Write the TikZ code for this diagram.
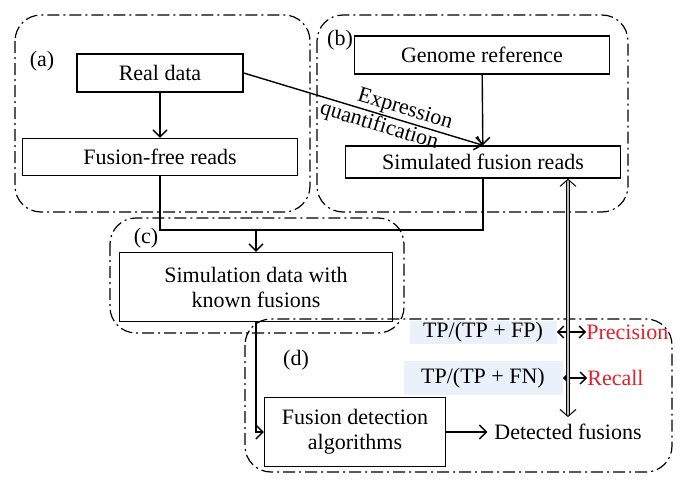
\documentclass[tikz,border=0pt]{standalone}
\usepackage{fontspec}
\setmainfont{Liberation Serif}
\usepackage{xcolor}
\usetikzlibrary{arrows.meta}

\definecolor{precred}{RGB}{228,32,40}
\definecolor{formbg}{RGB}{234,241,250}

\begin{document}
\begin{tikzpicture}[
    x=0.5pt, y=-0.5pt,
    font=\fontsize{11}{12.5}\selectfont,
    block/.style={draw, line width=0.7pt, inner sep=1pt, align=center},
    group/.style={draw, line width=0.6pt, rounded corners=13pt, dash pattern=on 6pt off 2pt on 1pt off 2pt},
    link/.style={line width=0.7pt},
    arr/.style={-{Straight Barb[length=3.5pt, width=7pt]}, line width=0.7pt},
    both/.style={{Straight Barb[length=3pt, width=6pt]}-{Straight Barb[length=3pt, width=6pt]}, line width=0.7pt},
    formula/.style={fill=formbg, inner sep=0pt},
]
\useasboundingbox (0,0) rectangle (686,487);

% dash-dot groups
\draw[group] (15,15) rectangle (310,212);
\draw[group] (317,15) rectangle (628,212);
\draw[group] (110,218) rectangle (404,333);
\draw[group] (245,319) rectangle (672,472);

\node (la) at (42,61) {(a)};
\node (lb) at (340,40) {(b)};
\node (lc) at (146,238) {(c)};
\node (ld) at (296,360) {(d)};

% (a) real data
\node[block, minimum width=83pt, minimum height=19pt] (real) at (160,73) {Real data};
\node[block, minimum width=137.5pt, minimum height=18.5pt] (ffr) at (160,157) {Fusion-free reads};

% (b) simulation
\node[block, minimum width=127.5pt, minimum height=19pt] (genome) at (482,55) {Genome reference};
\node[block, minimum width=137.5pt, minimum height=16pt] (sfr) at (483,162) {Simulated fusion reads};

% (c) merged data
\node[block, minimum width=136.5pt, minimum height=34.5pt] (sim) at (256,287) {Simulation data with\\known fusions};
\coordinate (join) at (256,230);

% (d) evaluation
\node[block, minimum width=90.5pt, minimum height=34.5pt] (fda) at (355,432) {Fusion detection\\algorithms};
\node (det) at (568,432) {Detected fusions};
\node[formula, minimum width=73.5pt, minimum height=11.5pt] (tpfp) at (483,332) {TP/(TP + FP)};
\node[formula, minimum width=79.5pt, minimum height=17pt] (tpfn) at (483,378) {TP/(TP + FN)};
\node[text=precred, anchor=west, inner sep=0pt] (prec) at (586,332) {Precision};
\node[text=precred, anchor=west, inner sep=0pt] (rec) at (587,378) {Recall};

\draw[arr] (real) -- (ffr);
\draw[arr] (genome) -- (sfr);
\draw[arr] (real.east) -- node[sloped, above, pos=0.66, inner sep=0.5pt] {Expression}
    node[sloped, below, pos=0.58, inner sep=0.5pt] {quantification} (sfr.north);
\draw[link] (ffr.south) |- (join) -| (sfr.south);
\draw[arr] (join) -- (sim.north);
\draw[arr] (sim.south) |- (fda.west);
\draw[arr] (fda.east) -- (det.west);
\draw[both] (tpfp.east) -- (prec.west);
\draw[both] (tpfn.east) -- (rec.west);
\draw[{Straight Barb[length=3.5pt, width=8pt]}-{Straight Barb[length=3.5pt, width=8pt]}, double=gray!55, double distance=1.2pt, line width=0.5pt]
    (sfr.south -| det.north) -- (det.north);

\end{tikzpicture}
\end{document}
